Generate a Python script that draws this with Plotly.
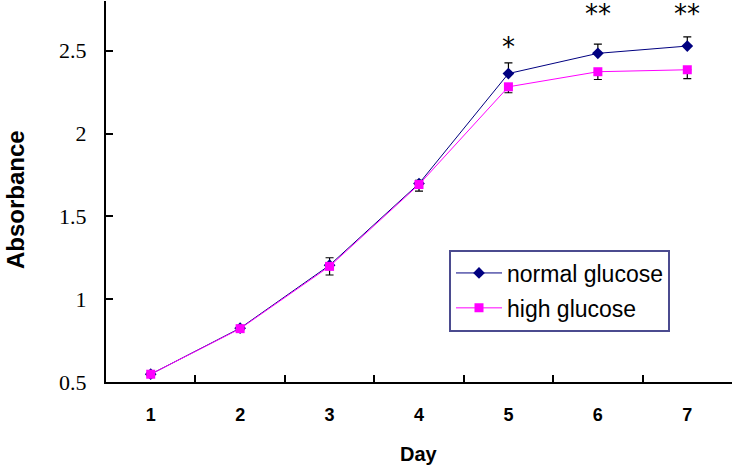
import plotly.graph_objects as go

days = ["1", "2", "3", "4", "5", "6", "7"]
normal_glucose = [0.547, 0.825, 1.205, 1.698, 2.362, 2.484, 2.528]
normal_err_up = [0.01, 0.01, 0.045, 0.02, 0.065, 0.056, 0.056]
high_glucose = [0.547, 0.822, 1.198, 1.692, 2.282, 2.373, 2.385]
high_err_down = [0.01, 0.01, 0.052, 0.04, 0.036, 0.047, 0.053]
star_days = ["5", "6", "7"]
star_text = ["*", "**", "**"]
star_y = [2.52, 2.72, 2.72]
y_ticks = [0.5, 1, 1.5, 2, 2.5]
y_ticktext = ["0.5", "1", "1.5", "2", "2.5"]

fig = go.Figure()
fig.add_trace(go.Scatter(
    x=days, y=normal_glucose, name="normal glucose", mode="lines+markers",
    legendgroup="a",
    line=dict(color="#000080", width=1),
    marker=dict(symbol="diamond", size=9, color="#000080"),
    error_y=dict(type="data", array=normal_err_up, arrayminus=[0] * 7,
                 symmetric=False, color="black", thickness=1.2, width=4),
))
fig.add_trace(go.Scatter(
    x=days, y=high_glucose, name="high glucose", mode="lines+markers",
    legendgroup="b",
    line=dict(color="#FF00FF", width=1),
    marker=dict(symbol="square", size=9, color="#FF00FF"),
    error_y=dict(type="data", array=[0] * 7, arrayminus=high_err_down,
                 symmetric=False, color="black", thickness=1.2, width=4),
))

for d, t, yv in zip(star_days, star_text, star_y):
    fig.add_annotation(x=days.index(d), y=yv, text=t, showarrow=False, xref="x", yref="y",
                       font=dict(family="DejaVu Sans", size=26, color="black"),
                       yanchor="middle")

fig.add_annotation(text="<b>Absorbance</b>", textangle=-90, showarrow=False,
                   xref="paper", yref="paper", x=(15.5 - 106) / 626, y=0.479,
                   xanchor="center", yanchor="middle",
                   font=dict(family="Liberation Sans", size=24, color="black"))
fig.add_annotation(text="<b>Day</b>", showarrow=False,
                   xref="paper", yref="paper", x=0.5, y=-0.19,
                   xanchor="center", yanchor="middle",
                   font=dict(family="Liberation Sans", size=20, color="black"))

fig.update_layout(
    width=737, height=469,
    margin=dict(l=106, r=5, t=1, b=87, autoexpand=False),
    paper_bgcolor="white", plot_bgcolor="white",
    showlegend=True,
    legend=dict(x=(449 - 106) / 626, y=(381.5 - 249) / 381, xanchor="left", yanchor="top",
                bordercolor="#4B4B8F", borderwidth=2, bgcolor="white",
                font=dict(family="Liberation Sans", size=23, color="black"),
                itemwidth=46, tracegroupgap=2),
    xaxis=dict(type="category", range=[-0.5, 6.5], tickson="boundaries",
               ticks="inside", ticklen=7, tickwidth=2, tickcolor="black",
               showline=True, linewidth=2, linecolor="black", showgrid=False,
               zeroline=False, ticklabelstandoff=15, automargin=False,
               tickfont=dict(family="Liberation Sans", size=18, color="black", weight="bold")),
    yaxis=dict(range=[0.5, 2.8], tickvals=y_ticks, ticktext=y_ticktext,
               ticks="inside", ticklen=7, tickwidth=2, tickcolor="black",
               showline=True, linewidth=2, linecolor="black", showgrid=False,
               zeroline=False, ticklabelstandoff=13, automargin=False,
               tickfont=dict(family="Liberation Serif", size=22, color="black")),
)

fig.write_html("out.html", config={"displayModeBar": False},
               post_script="document.body.style.margin='0';")
